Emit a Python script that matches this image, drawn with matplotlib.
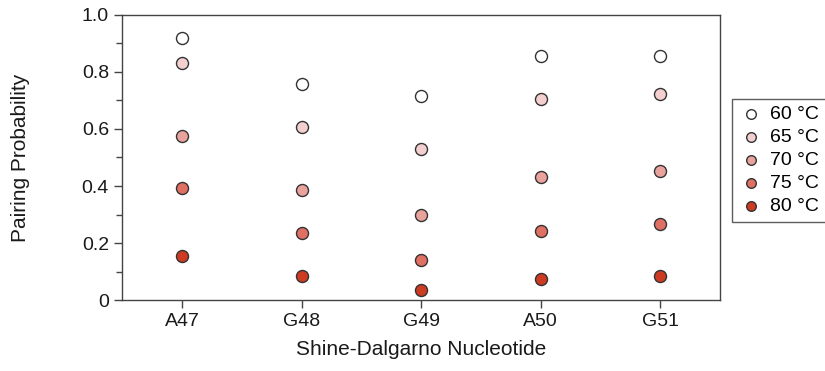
import matplotlib
matplotlib.use("Agg")
import matplotlib.pyplot as plt
from matplotlib.ticker import MultipleLocator, FixedLocator

plt.rcParams['font.family'] = ['Liberation Sans', 'DejaVu Sans']

# data
nucleotides = ["A47", "G48", "G49", "A50", "G51"]
temps = ["60 °C", "65 °C", "70 °C", "75 °C", "80 °C"]
p60 = [0.919, 0.758, 0.716, 0.856, 0.856]
p65 = [0.832, 0.607, 0.530, 0.705, 0.723]
p70 = [0.575, 0.386, 0.298, 0.432, 0.453]
p75 = [0.393, 0.235, 0.140, 0.242, 0.267]
p80 = [0.154, 0.084, 0.035, 0.074, 0.084]
colors = ["#ffffff", "#f3d0cf", "#e9a29c", "#e06f64", "#cd3b22"]

fig = plt.figure(figsize=(8.25, 3.71), dpi=100)
ax = fig.add_axes([0.148, 0.191, 0.725, 0.769])

x = range(len(nucleotides))
for vals, c, lab in zip([p60, p65, p70, p75, p80], colors, temps):
    ax.scatter(x, vals, s=75, color=c, edgecolor="#333333", linewidth=1.0,
               label=lab, zorder=3)

ax.set_xlim(-0.5, 4.5)
ax.set_ylim(0, 1.0)
ax.set_xticks(list(x))
ax.set_xticklabels(nucleotides)
ax.yaxis.set_major_locator(FixedLocator([0, 0.2, 0.4, 0.6, 0.8, 1.0]))
ax.set_yticklabels(["0", "0.2", "0.4", "0.6", "0.8", "1.0"])
ax.yaxis.set_minor_locator(MultipleLocator(0.1))
ax.tick_params(axis="both", which="major", direction="out", length=6,
               width=1, color="#444444", labelsize=14, colors="#1a1a1a")
ax.tick_params(axis="y", which="minor", direction="out", length=4,
               width=1, color="#444444")
for s in ax.spines.values():
    s.set_color("#444444")
    s.set_linewidth(1.0)

ax.set_xlabel("Shine-Dalgarno Nucleotide", fontsize=15, color="#1a1a1a", labelpad=7)
ax.set_ylabel("Pairing Probability", fontsize=15, color="#1a1a1a", labelpad=37)

leg = ax.legend(loc="center left", bbox_to_anchor=(1.02, 0.49), fontsize=14,
                frameon=True, fancybox=False, edgecolor="#333333",
                handletextpad=0.4, borderpad=0.35, labelspacing=0.28,
                handlelength=1.2, borderaxespad=0, markerscale=0.8)
leg.get_frame().set_linewidth(1.0)

fig.savefig("out.png", dpi=100)
